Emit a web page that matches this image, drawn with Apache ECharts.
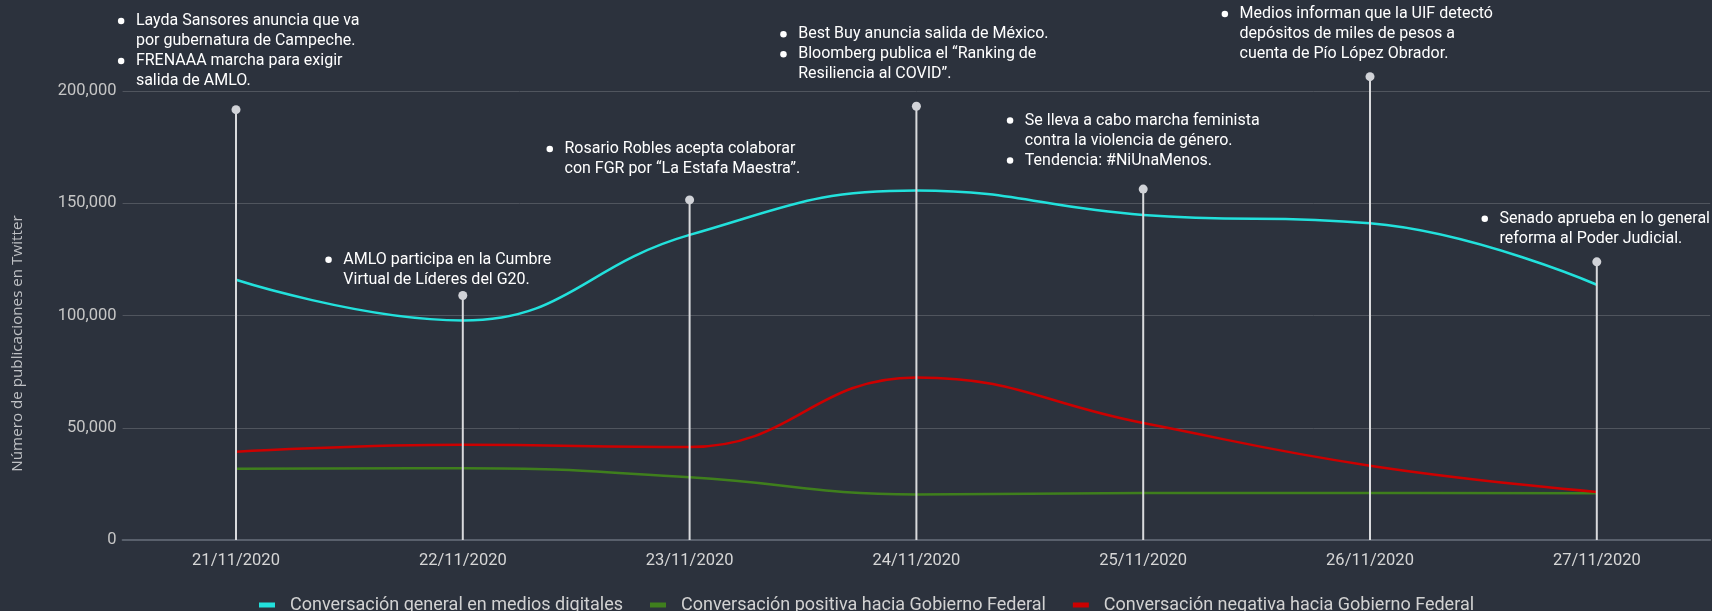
<!DOCTYPE html>
<html>
<head>
<meta charset="utf-8">
<script src="https://cdn.jsdelivr.net/npm/echarts@6/dist/echarts.min.js"></script>
<style>
html,body{margin:0;padding:0;background:#2c323d;}
#chart{width:1712px;height:611px;}
</style>
</head>
<body>
<div id="chart"></div>
<script>
// ---- data ----
const categories = ['21/11/2020','22/11/2020','23/11/2020','24/11/2020','25/11/2020','26/11/2020','27/11/2020'];
const seriesNames = [
  'Conversación general en medios digitales',
  'Conversación positiva hacia Gobierno Federal',
  'Conversación negativa hacia Gobierno Federal'
];
const generalValues  = [115900, 97800, 135900, 155700, 144800, 141100, 113700];
const positiveValues = [31700, 32000, 27900, 20300, 20900, 20900, 20800];
const negativeValues = [39300, 42400, 41400, 72400, 52100, 33100, 21400];
const markerHeights  = [191700, 108900, 151500, 193200, 156300, 206400, 123900];
const yMin = 0, yMax = 200000, yStep = 50000;
const yAxisTitle = 'Número de publicaciones en Twitter';
const annotations = [
  [['Layda Sansores anuncia que va','por gubernatura de Campeche.'],['FRENAAA marcha para exigir','salida de AMLO.']],
  [['AMLO participa en la Cumbre','Virtual de Líderes del G20.']],
  [['Rosario Robles acepta colaborar','con FGR por “La Estafa Maestra”.']],
  [['Best Buy anuncia salida de México.'],['Bloomberg publica el “Ranking de','Resiliencia al COVID”.']],
  [['Se lleva a cabo marcha feminista','contra la violencia de género.'],['Tendencia: #NiUnaMenos.']],
  [['Medios informan que la UIF detectó','depósitos de miles de pesos a','cuenta de Pío López Obrador.']],
  [['Senado aprueba en lo general','reforma al Poder Judicial.']]
];

// ---- layout / style (not data) ----
const annotationOffsets = [[-118.1,-18.7],[-137.5,-5.7],[-143.1,-21],[-136.2,-22],[-136.4,-18.6],[-148.4,-12.7],[-115.3,-13]];
const colors = ['#22e1dc','#3f7f1d','#cc0000'];

function buildText(items){
  const lines = [];
  items.forEach(item => {
    item.forEach((ln, k) => {
      lines.push((k === 0 ? '{dot| }{gap| }' : '{sp| }') + '{tx|' + ln + '}');
    });
  });
  return lines.join('\n');
}

const rich = {
  dot: {width: 6.5, height: 6.5, backgroundColor: '#ffffff', borderRadius: 3.25, fontSize: 6, lineHeight: 20},
  gap: {width: 11.5, fontSize: 16, lineHeight: 20},
  sp:  {width: 18, fontSize: 16, lineHeight: 20},
  tx:  {fontSize: 16, color: '#ffffff', lineHeight: 20, fontFamily: 'Roboto'}
};

const chart = echarts.init(document.getElementById('chart'), null, {renderer: 'canvas'});

const option = {
  backgroundColor: '#2c323d',
  animation: false,
  textStyle: {fontFamily: 'Roboto'},
  grid: {left: 122.6, right: 1.8, top: 91, bottom: 71, containLabel: false},
  legend: {
    data: seriesNames,
    left: 254,
    top: 591,
    icon: 'rect',
    itemWidth: 16,
    itemHeight: 5,
    itemGap: 27,
    textStyle: {color: '#d2d2d2', fontSize: 18, fontFamily: 'Roboto', padding: [0,0,0,10]}
  },
  xAxis: {
    type: 'category',
    data: categories,
    boundaryGap: true,
    axisTick: {show: false},
    axisLine: {lineStyle: {color: '#59606c', width: 2}},
    axisLabel: {color: '#d6d6d6', fontSize: 16.5, margin: 12, fontFamily: 'Roboto'},
    splitLine: {show: false}
  },
  yAxis: {
    type: 'value',
    min: yMin, max: yMax, interval: yStep,
    axisLine: {show: false},
    axisTick: {show: false},
    axisLabel: {color: '#c6c6c6', fontSize: 16.5, margin: 6, fontFamily: 'Roboto',
      formatter: v => v.toLocaleString('en-US')},
    splitLine: {lineStyle: {color: '#50555e', width: 1}},
    name: yAxisTitle,
    nameLocation: 'middle',
    nameRotate: 90,
    nameGap: 97,
    nameTextStyle: {color: '#bfc1c5', fontSize: 15.2, fontFamily: 'Open Sans', padding: [0,56,0,0]}
  },
  series: [
    {name: seriesNames[0], type: 'line', data: generalValues, smooth: 0.45, symbol: 'none',
      lineStyle: {color: colors[0], width: 2.5}, itemStyle: {color: colors[0]}, z: 2},
    {name: seriesNames[1], type: 'line', data: positiveValues, smooth: 0.45, symbol: 'none',
      lineStyle: {color: colors[1], width: 2.5}, itemStyle: {color: colors[1]}, z: 2},
    {name: seriesNames[2], type: 'line', data: negativeValues, smooth: 0.45, symbol: 'none',
      lineStyle: {color: colors[2], width: 2.5}, itemStyle: {color: colors[2]}, z: 2},
    {name: 'markerLines', type: 'bar', data: markerHeights, barWidth: 2, clip: false, silent: true,
      itemStyle: {color: '#d9dadd'}, z: 3},
    {name: 'markerDots', type: 'scatter', clip: false, silent: true, symbolSize: 9,
      itemStyle: {color: '#d1d3d8', opacity: 1}, z: 4,
      data: markerHeights.map((v, i) => ({
        value: v,
        label: {
          show: true,
          position: 'inside',
          align: 'left',
          verticalAlign: 'bottom',
          offset: annotationOffsets[i],
          formatter: () => buildText(annotations[i]),
          rich: rich
        }
      }))
    }
  ]
};
chart.setOption(option);
</script>
</body>
</html>
